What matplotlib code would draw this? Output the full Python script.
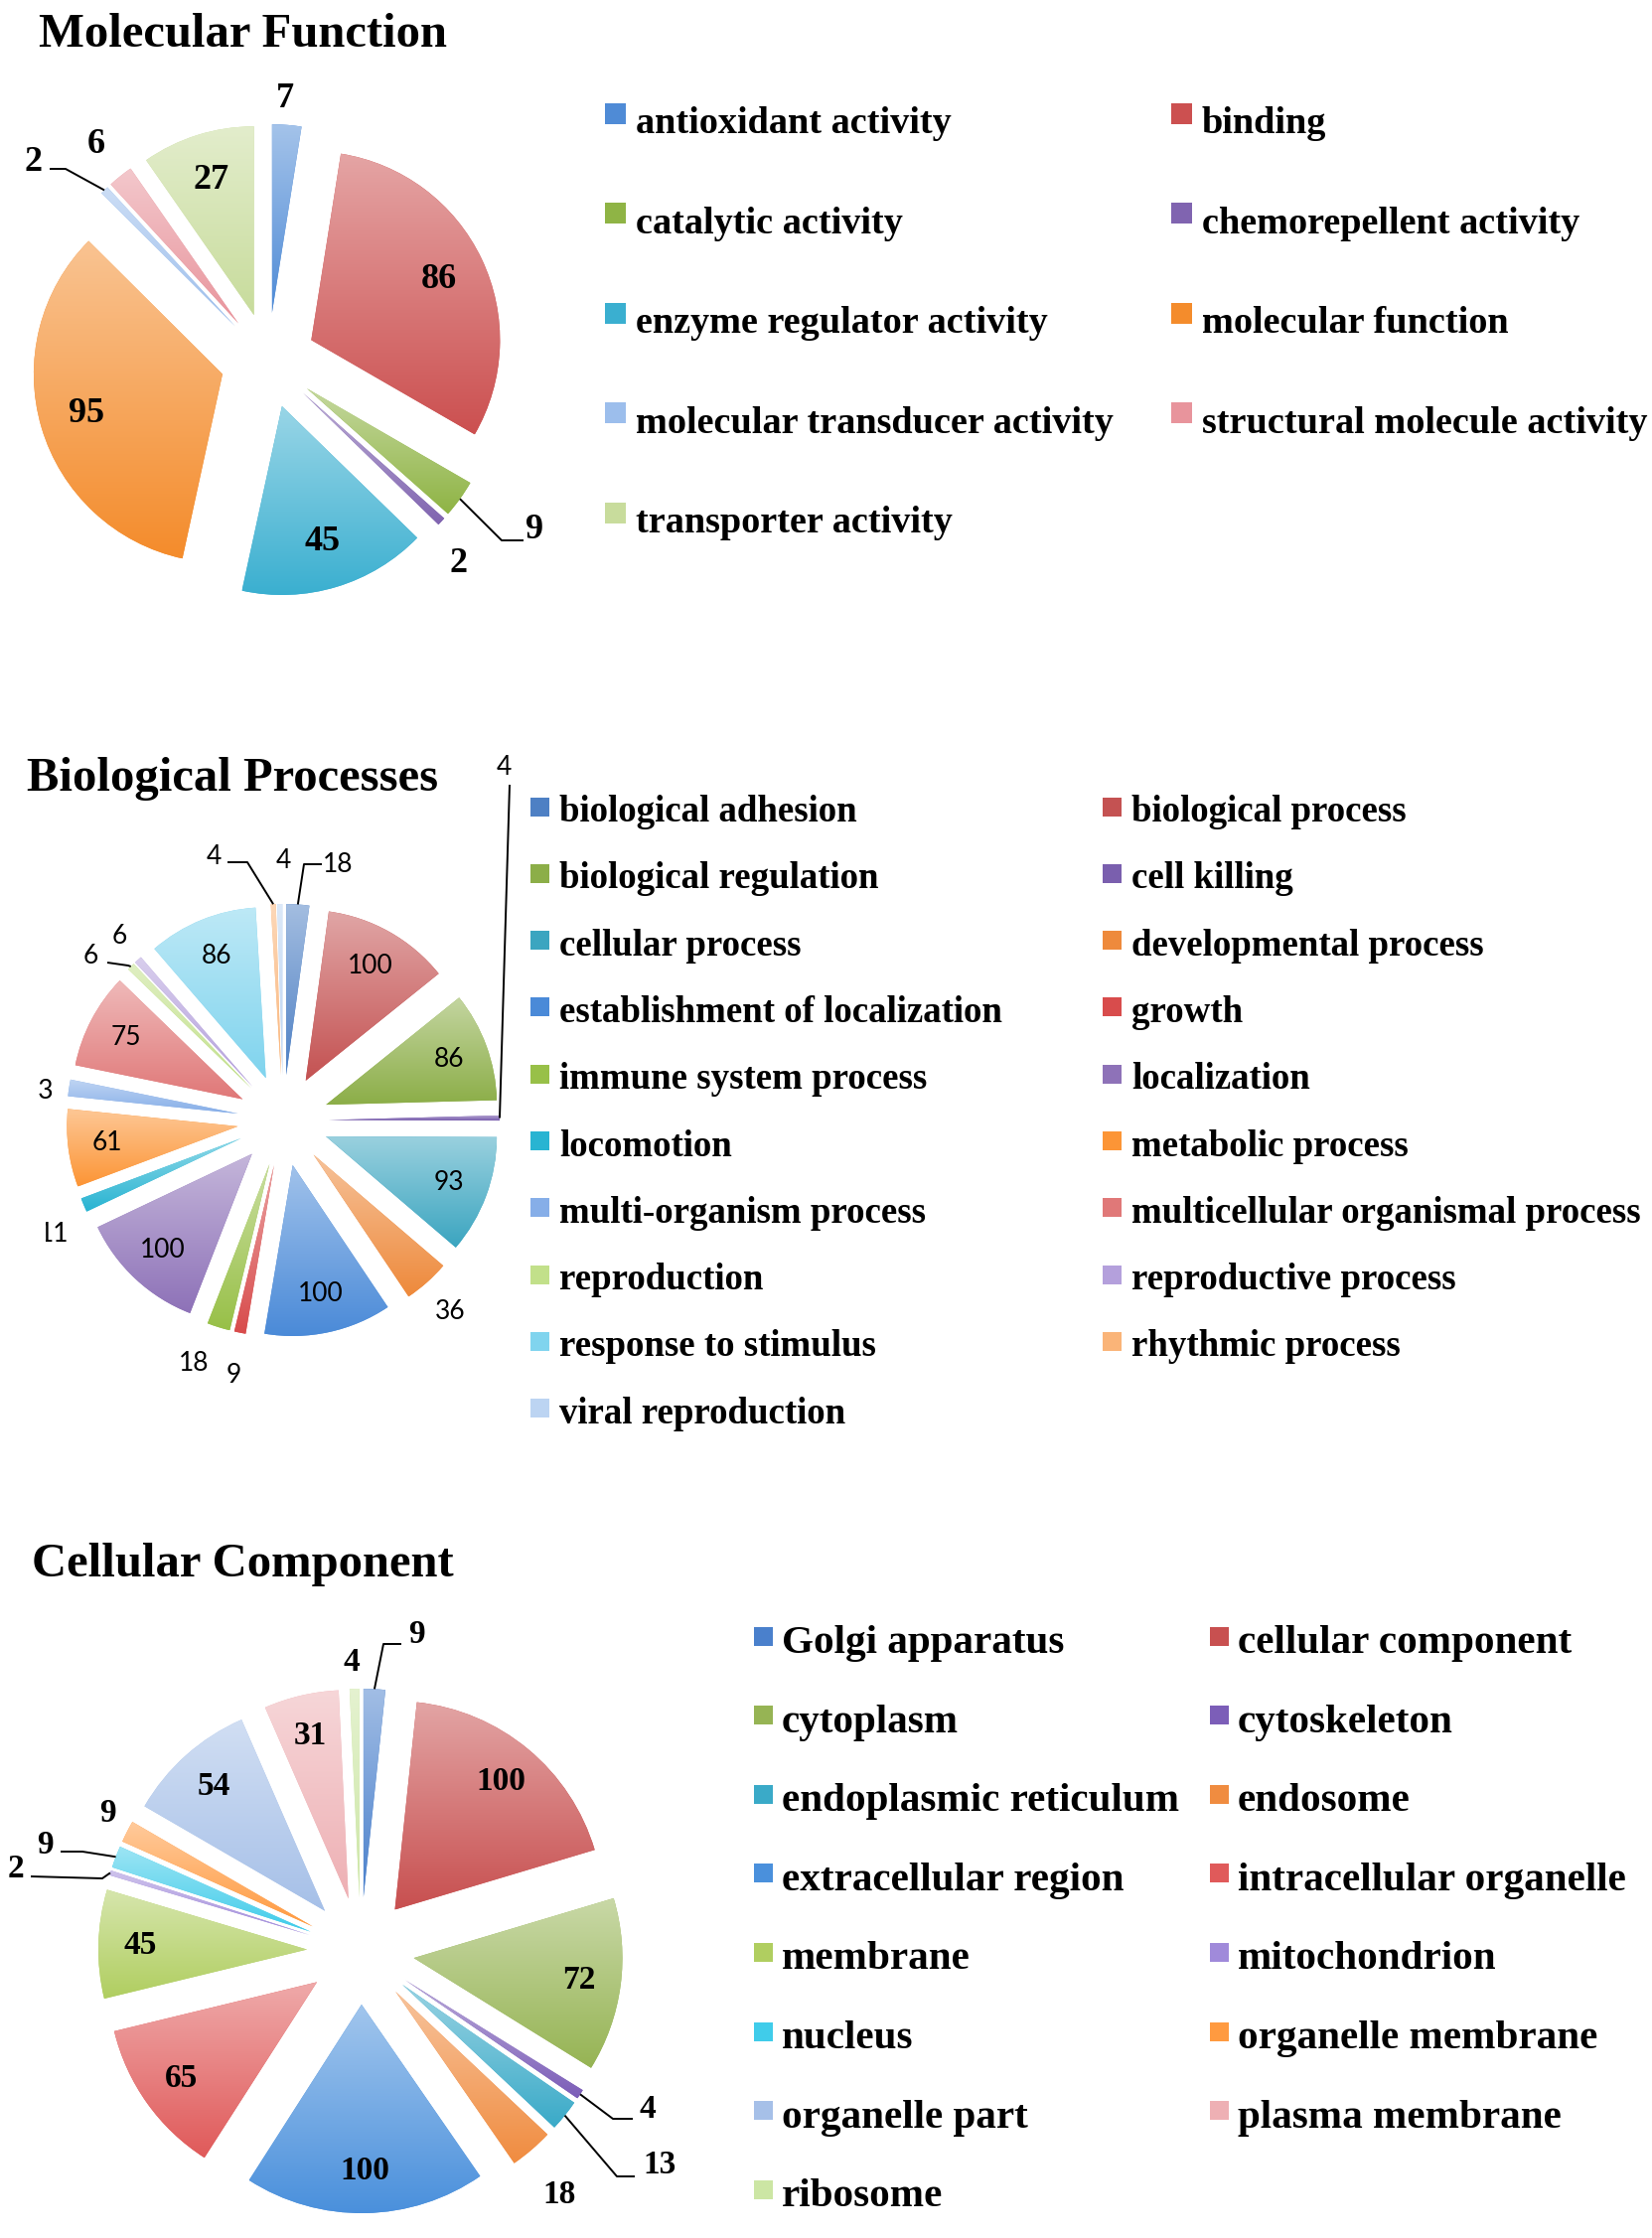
import numpy as np
import matplotlib
matplotlib.use("Agg")
import matplotlib.pyplot as plt
from matplotlib.colors import to_rgb
from matplotlib.transforms import Bbox, TransformedBbox

W, H = 1663, 2253

# ---------------- data ----------------
mf_labels = ["antioxidant activity", "binding", "catalytic activity",
             "chemorepellent activity", "enzyme regulator activity",
             "molecular function", "molecular transducer activity",
             "structural molecule activity", "transporter activity"]
mf_values = [7, 86, 9, 2, 45, 95, 2, 6, 27]

bp_labels = ["biological adhesion", "biological process", "biological regulation",
             "cell killing", "cellular process", "developmental process",
             "establishment of localization", "growth", "immune system process",
             "localization", "locomotion", "metabolic process",
             "multi-organism process", "multicellular organismal process",
             "reproduction", "reproductive process", "response to stimulus",
             "rhythmic process", "viral reproduction"]
bp_values = [18, 100, 86, 4, 93, 36, 100, 9, 18, 100, 11, 61, 13, 75, 6, 6, 86, 4, 4]

cc_labels = ["Golgi apparatus", "cellular component", "cytoplasm", "cytoskeleton",
             "endoplasmic reticulum", "endosome", "extracellular region",
             "intracellular organelle", "membrane", "mitochondrion", "nucleus",
             "organelle membrane", "organelle part", "plasma membrane", "ribosome"]
cc_values = [9, 100, 72, 4, 13, 18, 100, 65, 45, 2, 9, 9, 54, 31, 4]

# ---------------- styles (darker, bottom colour of each slice gradient) ----------------
mf_colors = ["#4F8BD6", "#CC5050", "#8FB445", "#8064B0", "#3AAFD0", "#F48C2C",
             "#9CBEEC", "#E8949C", "#C8DC9C"]
bp_colors = ["#4E80C4", "#C45252", "#8CAE48", "#7A5FAE", "#3BA5C0", "#EE8A3C",
             "#4A8AD8", "#D84C4C", "#98C048", "#8E72B8", "#28B4D2", "#FC9536",
             "#86AEE8", "#E07878", "#C2E08A", "#B4A0DC", "#80D4EE", "#FAB478",
             "#BCD4F2"]
cc_colors = ["#4A80CC", "#C85050", "#96B454", "#7C5EB8", "#3AAAC8", "#F08C40",
             "#4A90DC", "#E05A5A", "#B0CE60", "#A08ADA", "#40CCEA", "#FF9A40",
             "#A6C0E8", "#EEB0B4", "#CCE6A4"]

SERIF = "Liberation Serif"
SANS = "Lato"

fig = plt.figure(figsize=(W / 100, H / 100), dpi=100)
ax = fig.add_axes([0, 0, 1, 1])


def Y(y):
    # pixel row (from top) -> data y
    return H - y


def lighten(c, t):
    c = np.array(to_rgb(c))
    return c * (1 - t) + t


def make_pct(values, thr):
    total = sum(values)

    def f(p):
        v = int(round(p * total / 100.0))
        return str(v) if v >= thr else ""
    return f


def draw_pie(values, colors, cx, cy, R, expl, pctdist, thr, tprops, outer):
    wedges, _, autotexts = ax.pie(
        values, colors=colors, startangle=90, counterclock=False,
        radius=R, center=(cx, Y(cy)), explode=[expl] * len(values),
        autopct=make_pct(values, thr), pctdistance=pctdist,
        wedgeprops=dict(linewidth=0), textprops=tprops)
    for at in autotexts:
        at.set_zorder(5)
    # vertical gradient per slice, lighter on top
    for w, c in zip(wedges, colors):
        v = w.get_path().vertices
        top = lighten(c, 0.48)
        bot = np.array(to_rgb(c))
        t = np.linspace(0, 1, 64)[:, None]
        grad = (bot[None, :] * (1 - t) + top[None, :] * t)[:, None, :]
        im = ax.imshow(grad, extent=(v[:, 0].min(), v[:, 0].max(),
                                     v[:, 1].min(), v[:, 1].max()),
                       origin="lower", aspect="auto", interpolation="bilinear",
                       zorder=1.5)
        im.set_clip_path(w)
    # outside labels with optional leader lines
    for idx, spec in outer.items():
        tx, ty, path, ha = spec[:4]
        w = wedges[idx]
        txt = ax.text(tx, Y(ty), str(values[idx]), ha=ha, va="center", zorder=5, **tprops)
        if len(spec) > 4:
            # label cut off at the left, as in the source figure
            txt.set_clip_on(True)
            txt.set_clip_box(TransformedBbox(Bbox.from_extents(spec[4], 0, W, H), ax.transData))
        if path:
            th = np.deg2rad(0.5 * (w.theta1 + w.theta2))
            ax0 = w.center[0] + R * np.cos(th)
            ay0 = w.center[1] + R * np.sin(th)
            xs = [ax0] + [p[0] for p in path]
            ys = [ay0] + [Y(p[1]) for p in path]
            ax.plot(xs, ys, color="black", lw=1.4, zorder=4, solid_capstyle="butt")
    return wedges


def draw_legend(labels, colors, x1, x2, gap, base0, step, msize, moff, fsize):
    for i, (lab, c) in enumerate(zip(labels, colors)):
        col, row = i % 2, i // 2
        mx = x1 if col == 0 else x2
        by = base0 + step * row
        ax.add_patch(plt.Rectangle((mx, Y(by - moff + msize / 2)), msize, msize,
                                   facecolor=c, edgecolor="none", zorder=3))
        ax.text(mx + msize + gap, Y(by), lab, fontsize=fsize, family=SERIF,
                weight="bold", va="baseline", ha="left", color="black")


# ---------------- Molecular Function ----------------
ax.text(39, Y(47), "Molecular Function", fontsize=35, family=SERIF, weight="bold",
        va="baseline", ha="left")
mf_tp = dict(fontsize=26, family=SERIF, weight="bold", color="black")
mf_outer = {
    0: (287, 99, None, "center"),
    7: (97, 145, None, "center"),
    6: (34, 163, [(66, 170), (50, 170)], "center"),
    3: (461, 567, None, "center"),
    2: (538, 534, [(505, 544), (527, 544)], "center"),
}
draw_pie(mf_values, mf_colors, 270, 363, 190, 48, 0.75, 20, mf_tp, mf_outer)
draw_legend(mf_labels, mf_colors, 609, 1179, 10, 134, 100.6, 21, 20, 27.5)

# ---------------- Biological Processes ----------------
ax.text(27, Y(796), "Biological Processes", fontsize=35, family=SERIF, weight="bold",
        va="baseline", ha="left")
bp_tp = dict(fontsize=19, family=SANS, color="black")
bp_outer = {
    0: (340, 870, [(306, 870), (324, 870)], "center"),
    3: (507, 773, [(513, 790)], "center"),
    5: (453, 1321, None, "center"),
    7: (235, 1384, None, "center"),
    8: (195, 1372, None, "center"),
    10: (69, 1242, None, "right", 46),
    12: (55, 1098, None, "right", 38),
    14: (91, 963, [(129, 972), (108, 969)], "center"),
    15: (120, 942, None, "center"),
    17: (215, 862, [(249, 868), (229, 868)], "center"),
    18: (285, 866, None, "center"),
}
draw_pie(bp_values, bp_colors, 285, 1128, 172, 46, 0.77, 50, bp_tp, bp_outer)
draw_legend(bp_labels, bp_colors, 534, 1110, 10, 827, 67.3, 19, 15, 26.6)

# ---------------- Cellular Component ----------------
ax.text(32, Y(1587), "Cellular Component", fontsize=35, family=SERIF, weight="bold",
        va="baseline", ha="left")
cc_tp = dict(fontsize=24, family=SERIF, weight="bold", color="black")
cc_outer = {
    0: (419, 1646, [(386, 1655), (404, 1655)], "center"),
    14: (354, 1673, None, "center"),
    11: (108, 1826, None, "center"),
    10: (45, 1857, [(83, 1864), (61, 1864)], "center"),
    9: (16, 1882, [(103, 1891), (31, 1889)], "center"),
    5: (563, 2209, None, "center"),
    4: (664, 2180, [(621, 2191), (639, 2191)], "center"),
    3: (652, 2124, [(617, 2133), (637, 2133)], "center"),
}
draw_pie(cc_values, cc_colors, 363, 1964, 210, 54, 0.80, 30, cc_tp, cc_outer)
draw_legend(cc_labels, cc_colors, 759, 1218, 9, 1664, 79.6, 19, 17, 29.6)

ax.set_xlim(0, W)
ax.set_ylim(0, H)
ax.set_aspect("auto")
ax.axis("off")

fig.savefig("out.png", dpi=100, facecolor="white")
